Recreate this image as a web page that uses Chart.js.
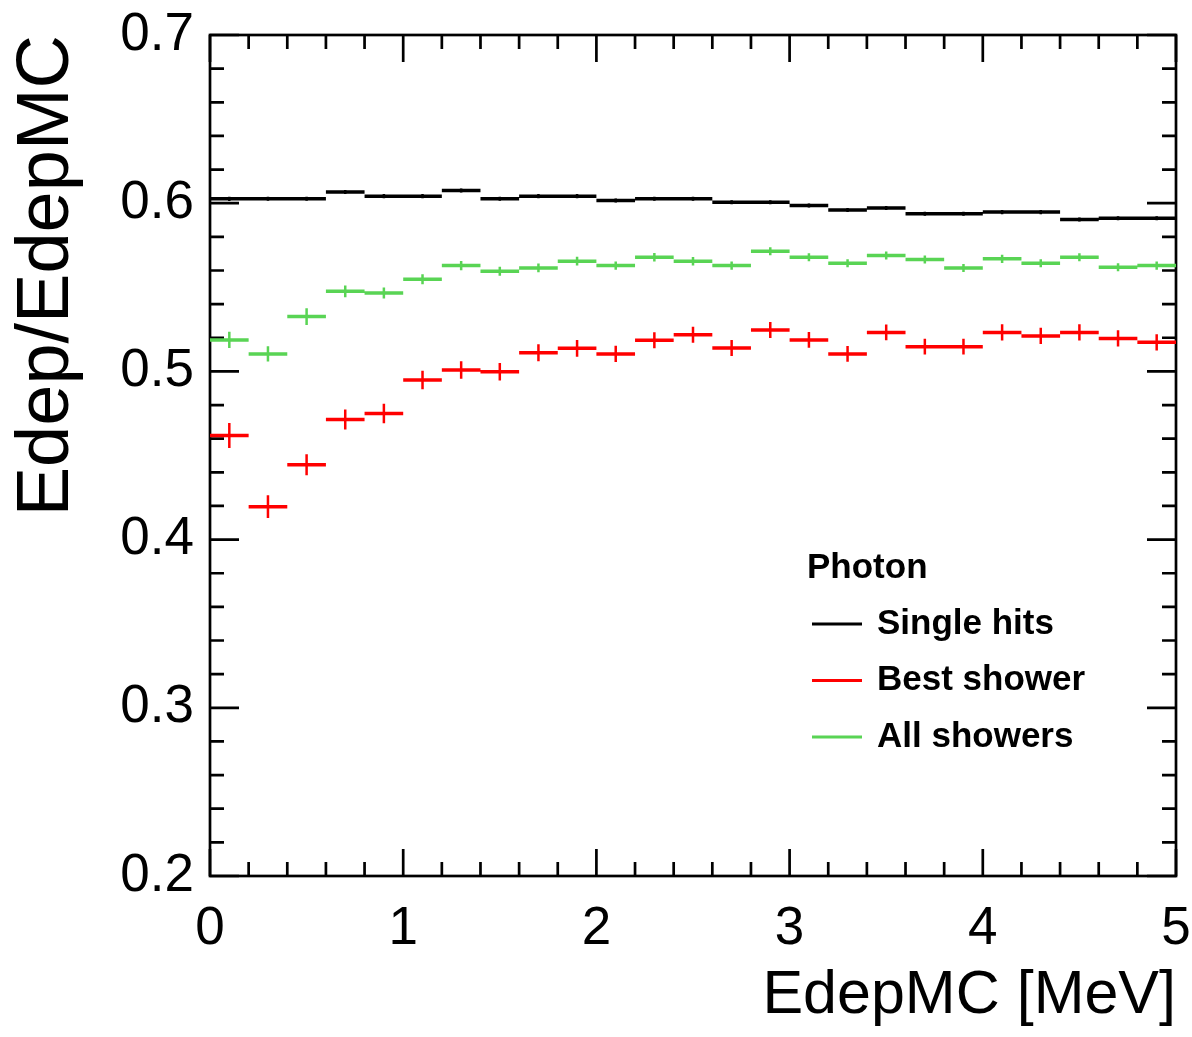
<!DOCTYPE html>
<html>
<head>
<meta charset="utf-8">
<script src="https://cdn.jsdelivr.net/npm/chart.js@4.4.1/dist/chart.umd.min.js"></script>
<style>
  body { margin: 0; background: #fff; }
  #wrap { width: 1192px; height: 1037px; position: relative; }
</style>
</head>
<body>
<div id="wrap"><canvas id="chart"></canvas></div>
<script>
// bin centres (bin width 0.2 MeV)
const binCenters = [0.1, 0.3, 0.5, 0.7, 0.9, 1.1, 1.3, 1.5, 1.7, 1.9, 2.1, 2.3, 2.5,
  2.7, 2.9, 3.1, 3.3, 3.5, 3.7, 3.9, 4.1, 4.3, 4.5, 4.7, 4.9];
const binHalfWidth = 0.1;

const singleHits = [0.6026, 0.6026, 0.6026, 0.6066, 0.6042, 0.6042, 0.6076, 0.6026, 0.6042,
  0.6042, 0.6016, 0.6026, 0.6026, 0.6006, 0.6006, 0.5986, 0.5960, 0.5972, 0.5937, 0.5937,
  0.5947, 0.5947, 0.5903, 0.5911, 0.5911];
const singleHitsErr = [0.0013, 0.0012, 0.0012, 0.0012, 0.0012, 0.0012, 0.0012, 0.0012, 0.0012,
  0.0012, 0.0012, 0.0012, 0.0012, 0.0012, 0.0012, 0.0012, 0.0012, 0.0012, 0.0012, 0.0012,
  0.0012, 0.0012, 0.0012, 0.0012, 0.0012];

const bestShower = [0.4619, 0.4196, 0.4445, 0.4714, 0.4750, 0.4949, 0.5008, 0.4998, 0.5111,
  0.5137, 0.5104, 0.5185, 0.5218, 0.5139, 0.5246, 0.5187, 0.5104, 0.5232, 0.5147, 0.5147,
  0.5232, 0.5211, 0.5232, 0.5196, 0.5173];
const bestShowerErr = [0.0074, 0.0068, 0.0063, 0.0060, 0.0058, 0.0055, 0.0052, 0.0052, 0.0050,
  0.0050, 0.0048, 0.0048, 0.0048, 0.0047, 0.0047, 0.0047, 0.0047, 0.0047, 0.0047, 0.0047,
  0.0048, 0.0048, 0.0048, 0.0048, 0.0048];

const allShowers = [0.5187, 0.5104, 0.5326, 0.5476, 0.5466, 0.5548, 0.5629, 0.5595, 0.5615,
  0.5655, 0.5629, 0.5679, 0.5655, 0.5629, 0.5714, 0.5679, 0.5643, 0.5689, 0.5665, 0.5615,
  0.5669, 0.5643, 0.5679, 0.5619, 0.5629];
const allShowersErr = [0.0048, 0.0045, 0.0050, 0.0035, 0.0033, 0.0030, 0.0028, 0.0027, 0.0026,
  0.0026, 0.0025, 0.0025, 0.0025, 0.0024, 0.0024, 0.0024, 0.0024, 0.0024, 0.0024, 0.0024,
  0.0024, 0.0024, 0.0024, 0.0024, 0.0024];

const yTicks = [0.2, 0.3, 0.4, 0.5, 0.6, 0.7];
const xTicks = [0, 1, 2, 3, 4, 5];

const BLACK = "#000000";
const RED = "#ff0000";
const GREEN = "#59d454";

// horizontal bin segments, broken by null points
function binSegments(values) {
  return values.flatMap((v, i) => [
    { x: binCenters[i] - binHalfWidth, y: v },
    { x: binCenters[i] + binHalfWidth, y: v },
    { x: binCenters[i] + binHalfWidth, y: null },
  ]);
}
// vertical error bars
function errorSegments(values, errs) {
  return values.flatMap((v, i) => [
    { x: binCenters[i], y: v - errs[i] },
    { x: binCenters[i], y: v + errs[i] },
    { x: binCenters[i], y: null },
  ]);
}

function histo(label, values, errs, color) {
  return [
    { label: label, data: binSegments(values), borderColor: color, borderWidth: 3.5,
      pointRadius: 0, spanGaps: false, tension: 0, borderCapStyle: "butt" },
    { label: label + " err", data: errorSegments(values, errs), borderColor: color, borderWidth: 2.5,
      pointRadius: 0, spanGaps: false, tension: 0 },
  ];
}

// frame with inward ticks on all four sides, ROOT style
const framePlugin = {
  id: "frame",
  beforeDatasetsDraw(chart) {
    const { ctx, chartArea: a, scales } = chart;
    const xs = scales.x, ys = scales.y;
    ctx.save();
    ctx.strokeStyle = "#000";
    ctx.lineWidth = 2.7;
    ctx.strokeRect(a.left, a.top, a.right - a.left, a.bottom - a.top);
    ctx.beginPath();
    for (let k = 0; k <= 25; k++) {
      const px = xs.getPixelForValue(k * 0.2);
      const len = k % 5 === 0 ? 27 : 14;
      ctx.moveTo(px, a.bottom); ctx.lineTo(px, a.bottom - len);
      ctx.moveTo(px, a.top); ctx.lineTo(px, a.top + len);
    }
    for (let k = 0; k <= 25; k++) {
      const py = ys.getPixelForValue(0.2 + k * 0.02);
      const len = k % 5 === 0 ? 29 : 14;
      ctx.moveTo(a.left, py); ctx.lineTo(a.left + len, py);
      ctx.moveTo(a.right, py); ctx.lineTo(a.right - len, py);
    }
    ctx.stroke();
    ctx.restore();
  },
};

const legendItems = [
  { text: "Single hits", color: BLACK },
  { text: "Best shower", color: RED },
  { text: "All showers", color: GREEN },
];

const legendPlugin = {
  id: "rootLegend",
  afterDraw(chart) {
    const { ctx } = chart;
    ctx.save();
    ctx.font = "bold 35px 'Liberation Sans', Arial, sans-serif";
    ctx.fillStyle = "#000";
    ctx.textBaseline = "middle";
    ctx.textAlign = "left";
    ctx.fillText("Photon", 807, 568);
    legendItems.forEach((it, i) => {
      const y = 624 + i * 56.5;
      ctx.strokeStyle = it.color;
      ctx.lineWidth = 3;
      ctx.beginPath();
      ctx.moveTo(812, y); ctx.lineTo(862, y);
      ctx.stroke();
      ctx.fillText(it.text, 877, y);
    });
    ctx.restore();
  },
};

const tickFont = { family: "'Liberation Sans', Arial, sans-serif", size: 53 };

new Chart(document.getElementById("chart"), {
  type: "line",
  data: {
    datasets: [
      ...histo("Single hits", singleHits, singleHitsErr, BLACK),
      ...histo("Best shower", bestShower, bestShowerErr, RED),
      ...histo("All showers", allShowers, allShowersErr, GREEN),
    ],
  },
  options: {
    responsive: true,
    maintainAspectRatio: false,
    animation: false,
    layout: { padding: { top: 35, right: 16, left: 0, bottom: 0 } },
    plugins: { legend: { display: false }, tooltip: { enabled: false } },
    scales: {
      x: {
        type: "linear",
        min: 0,
        max: 5,
        afterBuildTicks: (s) => { s.ticks = xTicks.map((v) => ({ value: v })); },
        ticks: { font: tickFont, color: "#000", padding: 22, maxRotation: 0,
          callback: (v) => String(v) },
        grid: { display: false, drawTicks: false },
        border: { display: false },
        title: { display: true, text: "EdepMC [MeV]", align: "end", color: "#000",
          font: { family: "'Liberation Sans', Arial, sans-serif", size: 61 },
          padding: { top: 0, bottom: 4 } },
        afterFit: (s) => { s.height = 161; s.paddingLeft = 0; s.paddingRight = 0; },
      },
      y: {
        min: 0.2,
        max: 0.7,
        afterBuildTicks: (s) => { s.ticks = yTicks.map((v) => ({ value: v })); },
        ticks: { font: tickFont, color: "#000", padding: 16,
          callback: (v) => v.toFixed(1) },
        grid: { display: false, drawTicks: false },
        border: { display: false },
        title: { display: true, text: "Edep/EdepMC", align: "end", color: "#000",
          font: { family: "'Liberation Sans', Arial, sans-serif", size: 74 },
          padding: { top: 3, bottom: 0 } },
        afterFit: (s) => { s.width = 210; s.paddingTop = 0; s.paddingBottom = 0; },
      },
    },
  },
  plugins: [framePlugin, legendPlugin],
});
</script>
</body>
</html>
